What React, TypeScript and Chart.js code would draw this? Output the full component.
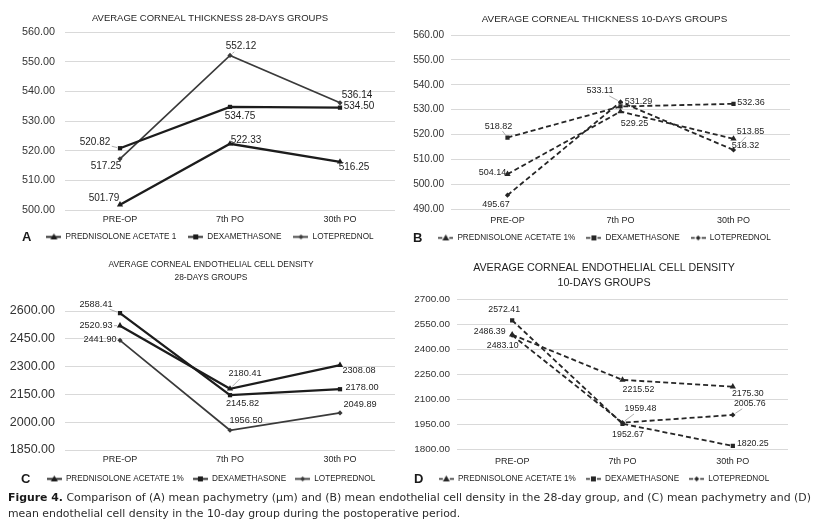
import React, { useEffect, useRef } from "react";
import { Chart, registerables } from "chart.js";
Chart.register(...registerables);

const FONT = "'Liberation Sans', Arial, sans-serif";

// ---------- data ----------
const categories = ["PRE-OP", "7th PO", "30th PO"];
const namesA = ["PREDNISOLONE ACETATE 1", "DEXAMETHASONE", "LOTEPREDNOL"];
const names = ["PREDNISOLONE ACETATE 1%", "DEXAMETHASONE", "LOTEPREDNOL"];

const thick28Pred = [501.79, 522.33, 516.25];
const thick28Dex = [520.82, 534.75, 534.5];
const thick28Lote = [517.25, 552.12, 536.14];

const thick10Pred = [504.14, 529.25, 518.32];
const thick10Dex = [518.82, 531.29, 532.36];
const thick10Lote = [495.67, 533.11, 513.85];

const ecd28Pred = [2520.93, 2180.41, 2308.08];
const ecd28Dex = [2588.41, 2145.82, 2178.0];
const ecd28Lote = [2441.9, 1956.5, 2049.89];

const ecd10Pred = [2486.39, 2215.52, 2175.3];
const ecd10Dex = [2572.41, 1952.67, 1820.25];
const ecd10Lote = [2483.1, 1959.48, 2005.76];

// axis ranges [min, max, step]
const rangeA = [500, 560, 10];
const rangeB = [490, 560, 10];
const rangeC = [1850, 2600, 150];
const rangeD = [1800, 2700, 150];

// ---------- label placement (offset from point, leader flag) ----------
type Off = number[];
const offA: Off[][] = [
  [[-16, -6], [16, -4], [14, 5]],
  [[-25, -6, 1], [10, 9], [19, -1]],
  [[-14, 7], [11, -9, 1], [17, -8]],
];
const offB: Off[][] = [
  [[-15, -2], [14, 12], [12, 7]],
  [[-9, -11.5, 1], [18, -5], [17.5, -1]],
  [[-11.5, 9], [-20.5, -11, 1], [17, -18, 1]],
];
const offC: Off[][] = [
  [[-24, 0, 1], [15, -15, 1], [19, 5]],
  [[-24, -9, 1], [12.5, 8], [22, -2]],
  [[-20, -1], [16, -9.6], [20, -8]],
];
const offD: Off[][] = [
  [[-22.5, -3], [16, 10], [15, 7.4]],
  [[-8, -11], [5.5, 10.6], [20, -2]],
  [[-9.5, 10], [18, -13.6, 1], [17, -11, 1]],
];

const STYLES = ["triangle", "rect", "rectRot"];

function makeIcon(style: string, dashed: boolean, color: string, lw: number) {
  const c = document.createElement("canvas");
  c.width = 15;
  c.height = 9;
  const g = c.getContext("2d")!;
  g.strokeStyle = color;
  g.fillStyle = color;
  g.lineWidth = lw;
  g.beginPath();
  if (dashed) {
    g.moveTo(0, 4.5);
    g.lineTo(4, 4.5);
    g.moveTo(11, 4.5);
    g.lineTo(15, 4.5);
  } else {
    g.moveTo(0, 4.5);
    g.lineTo(15, 4.5);
  }
  g.stroke();
  const cx = 7.5,
    cy = 4.5;
  g.beginPath();
  if (style === "triangle") {
    g.moveTo(cx, cy - 3.5);
    g.lineTo(cx + 3.5, cy + 2.5);
    g.lineTo(cx - 3.5, cy + 2.5);
    g.closePath();
  } else if (style === "rect") {
    g.rect(cx - 2.5, cy - 2.5, 5, 5);
  } else {
    g.moveTo(cx, cy - 2.5);
    g.lineTo(cx + 2.5, cy);
    g.lineTo(cx, cy + 2.5);
    g.lineTo(cx - 2.5, cy);
    g.closePath();
  }
  g.fill();
  return c;
}

function labelPlugin(offsets: Off[][], size: number) {
  return {
    id: "valueLabels",
    afterDatasetsDraw(chart: any) {
      const ctx = chart.ctx;
      ctx.save();
      ctx.font = `${size}px ${FONT}`;
      ctx.textAlign = "center";
      ctx.textBaseline = "middle";
      chart.data.datasets.forEach((ds: any, i: number) => {
        const meta = chart.getDatasetMeta(i);
        meta.data.forEach((pt: any, j: number) => {
          const o = offsets[i][j];
          const text = Number(ds.data[j]).toFixed(2);
          const lx = pt.x + o[0];
          const ly = pt.y + o[1];
          if (o[2]) {
            const w = ctx.measureText(text).width;
            const hw = w / 2 + 1.5,
              hh = size / 2 + 0.5;
            const vx = pt.x - lx,
              vy = pt.y - ly;
            const len = Math.hypot(vx, vy);
            const t = Math.min(vx ? hw / Math.abs(vx) : 1e9, vy ? hh / Math.abs(vy) : 1e9);
            const sx = lx + vx * t,
              sy = ly + vy * t;
            const ex = pt.x - (vx / len) * 3,
              ey = pt.y - (vy / len) * 3;
            if (t < 1 && Math.hypot(ex - sx, ey - sy) > 1.5) {
              ctx.strokeStyle = "#9a9a9a";
              ctx.lineWidth = 0.8;
              ctx.beginPath();
              ctx.moveTo(sx, sy);
              ctx.lineTo(ex, ey);
              ctx.stroke();
            }
          }
          ctx.fillStyle = "#1e1e1e";
          ctx.fillText(text, lx, ly);
        });
      });
      ctx.restore();
    },
  };
}

interface Cfg {
  letter: string;
  title: string[];
  titleSize: number;
  titleLH: number;
  titleCenter: number;
  names: string[];
  series: number[][];
  range: number[];
  dashed: boolean;
  offsets: Off[][];
  W: number;
  H: number;
  padL: number;
  padR: number;
  yW: number;
  yTickPad: number;
  tickSize: number;
  areaTop: number;
  areaBottom: number;
  xPad: number;
  legendGap: number;
  labelSize: number;
  letterX: number;
  letterY: number;
}

const LEGEND_FONT = 8.2;
const CAT_FONT = 9;

const noClip = (s: any) => {
  s._computeLabelArea = () => undefined;
};

function Panel({ cfg, left, top }: { cfg: Cfg; left: number; top: number }) {
  const ref = useRef<HTMLCanvasElement>(null);
  useEffect(() => {
    const canvas = ref.current!;
    const colors = cfg.dashed ? ["#262626", "#262626", "#262626"] : ["#1c1c1c", "#1c1c1c", "#3a3a3a"];
    const widths = cfg.dashed ? [1.8, 1.8, 1.8] : [2.3, 2.3, 1.7];
    const icons = STYLES.map((s, i) => makeIcon(s, cfg.dashed, colors[i], cfg.dashed ? 1.6 : 1.8));
    const lines = cfg.title.length;
    const tPadTop = cfg.titleCenter - (cfg.titleSize * cfg.titleLH) / 2;
    const tPadBottom = cfg.areaTop - tPadTop - lines * cfg.titleSize * cfg.titleLH;
    const legendH = LEGEND_FONT + cfg.legendGap + 10;
    const xH = cfg.H - legendH - cfg.areaBottom;
    const [mn, mx, st] = cfg.range;

    const chart = new Chart(canvas, {
      type: "line",
      data: {
        labels: categories,
        datasets: cfg.series.map((d, i) => ({
          label: cfg.names[i],
          data: d,
          borderColor: colors[i],
          backgroundColor: colors[i],
          borderWidth: widths[i],
          borderDash: cfg.dashed ? [5, 3] : [],
          pointStyle: STYLES[i],
          pointRadius: i === 0 ? 3.6 : i === 1 ? 3 : 2.6,
          pointBorderWidth: 0,
          pointBackgroundColor: colors[i],
          tension: 0,
          fill: false,
        })),
      },
      options: {
        responsive: false,
        animation: false,
        devicePixelRatio: 1,
        layout: { padding: { left: cfg.padL, right: cfg.padR, top: 0, bottom: 0 } },
        scales: {
          x: {
            offset: true,
            grid: { display: false, drawTicks: false },
            border: { display: false },
            ticks: { color: "#262626", font: { family: FONT, size: CAT_FONT }, padding: cfg.xPad, maxRotation: 0 },
            afterFit: (s: any) => {
              s.height = xH;
              noClip(s);
            },
          },
          y: {
            min: mn,
            max: mx,
            grid: { color: "#d9d9d9", lineWidth: 1, drawTicks: false },
            border: { display: false },
            ticks: {
              stepSize: st,
              color: "#333333",
              font: { family: FONT, size: cfg.tickSize },
              padding: cfg.yTickPad,
              callback: (v: any) => Number(v).toFixed(2),
            },
            afterFit: (s: any) => {
              s.width = cfg.yW;
              noClip(s);
            },
          },
        },
        plugins: {
          title: {
            display: true,
            text: cfg.title,
            color: "#1e1e1e",
            font: { family: FONT, size: cfg.titleSize, weight: "normal", lineHeight: cfg.titleLH },
            padding: { top: tPadTop, bottom: tPadBottom },
          },
          legend: {
            display: true,
            position: "bottom",
            labels: {
              usePointStyle: true,
              pointStyleWidth: 15,
              boxHeight: 8,
              padding: cfg.legendGap,
              color: "#1e1e1e",
              font: { family: FONT, size: LEGEND_FONT },
              generateLabels: (ch: any) =>
                ch.data.datasets.map((ds: any, i: number) => ({
                  text: ds.label,
                  pointStyle: icons[i],
                  fillStyle: colors[i],
                  strokeStyle: colors[i],
                  lineWidth: 0,
                  hidden: false,
                  datasetIndex: i,
                  fontColor: "#1e1e1e",
                })),
            },
          },
          tooltip: { enabled: false },
        },
      },
      plugins: [labelPlugin(cfg.offsets, cfg.labelSize)],
    } as any);
    return () => chart.destroy();
  }, [cfg]);

  return (
    <div style={{ position: "absolute", left, top, width: cfg.W, height: cfg.H }}>
      <canvas ref={ref} width={cfg.W} height={cfg.H} style={{ width: cfg.W, height: cfg.H, display: "block" }} />
      <span
        style={{
          position: "absolute",
          left: cfg.letterX,
          top: cfg.letterY - 7,
          fontFamily: FONT,
          fontWeight: "bold",
          fontSize: 13,
          lineHeight: "14px",
          color: "#1a1a1a",
        }}
      >
        {cfg.letter}
      </span>
    </div>
  );
}

const cfgA: Cfg = {
  letter: "A",
  title: ["AVERAGE CORNEAL THICKNESS 28-DAYS GROUPS"],
  titleSize: 9.5,
  titleLH: 1.2,
  titleCenter: 18,
  names: namesA,
  series: [thick28Pred, thick28Dex, thick28Lote],
  range: rangeA,
  dashed: false,
  offsets: offA,
  W: 408,
  H: 251,
  padL: 25,
  padR: 13,
  yW: 40,
  yTickPad: 10,
  tickSize: 10.8,
  areaTop: 32,
  areaBottom: 210,
  xPad: 4.6,
  legendGap: 12,
  labelSize: 10,
  letterX: 22,
  letterY: 237,
};

const cfgB: Cfg = {
  letter: "B",
  title: ["AVERAGE CORNEAL THICKNESS 10-DAYS GROUPS"],
  titleSize: 9.9,
  titleLH: 1.2,
  titleCenter: 19,
  names: names,
  series: [thick10Pred, thick10Dex, thick10Lote],
  range: rangeB,
  dashed: true,
  offsets: offB,
  W: 408,
  H: 252,
  padL: 11,
  padR: 26,
  yW: 32,
  yTickPad: 7,
  tickSize: 10.1,
  areaTop: 35,
  areaBottom: 209.3,
  xPad: 6.3,
  legendGap: 11,
  labelSize: 9,
  letterX: 5,
  letterY: 238,
};

const cfgC: Cfg = {
  letter: "C",
  title: ["AVERAGE CORNEAL ENDOTHELIAL CELL DENSITY", "28-DAYS GROUPS"],
  titleSize: 8.4,
  titleLH: 1.55,
  titleCenter: 15,
  names: names,
  series: [ecd28Pred, ecd28Dex, ecd28Lote],
  range: rangeC,
  dashed: false,
  offsets: offC,
  W: 408,
  H: 243,
  padL: 27,
  padR: 13,
  yW: 38,
  yTickPad: 10,
  tickSize: 12.5,
  areaTop: 61,
  areaBottom: 200,
  xPad: 4.6,
  legendGap: 9,
  labelSize: 9.2,
  letterX: 21,
  letterY: 229,
};

const cfgD: Cfg = {
  letter: "D",
  title: ["AVERAGE CORNEAL ENDOTHELIAL CELL DENSITY", "10-DAYS GROUPS"],
  titleSize: 10.7,
  titleLH: 1.4,
  titleCenter: 18,
  names: names,
  series: [ecd10Pred, ecd10Dex, ecd10Lote],
  range: rangeD,
  dashed: true,
  offsets: offD,
  W: 408,
  H: 243,
  padL: 12,
  padR: 28,
  yW: 37,
  yTickPad: 7,
  tickSize: 9.9,
  areaTop: 49,
  areaBottom: 199.3,
  xPad: 7.3,
  legendGap: 10,
  labelSize: 8.8,
  letterX: 6,
  letterY: 229,
};

export default function App() {
  return (
    <div style={{ position: "absolute", left: 0, top: 0, width: 816, height: 529, background: "#ffffff", overflow: "hidden" }}>
      <Panel cfg={cfgA} left={0} top={0} />
      <Panel cfg={cfgB} left={408} top={0} />
      <Panel cfg={cfgC} left={0} top={250} />
      <Panel cfg={cfgD} left={408} top={250} />
      <div
        style={{
          position: "absolute",
          left: 8,
          top: 490,
          width: 810,
          fontFamily: "'DejaVu Sans', Verdana, sans-serif",
          fontSize: 10.9,
          lineHeight: "16px",
          color: "#2b2b2b",
          whiteSpace: "nowrap",
        }}
      >
        <div>
          <b style={{ color: "#1a1a1a" }}>Figure 4.</b> Comparison of (A) mean pachymetry (μm) and (B) mean endothelial cell density in the 28-day group, and (C) mean pachymetry and (D)
        </div>
        <div>mean endothelial cell density in the 10-day group during the postoperative period.</div>
      </div>
    </div>
  );
}
